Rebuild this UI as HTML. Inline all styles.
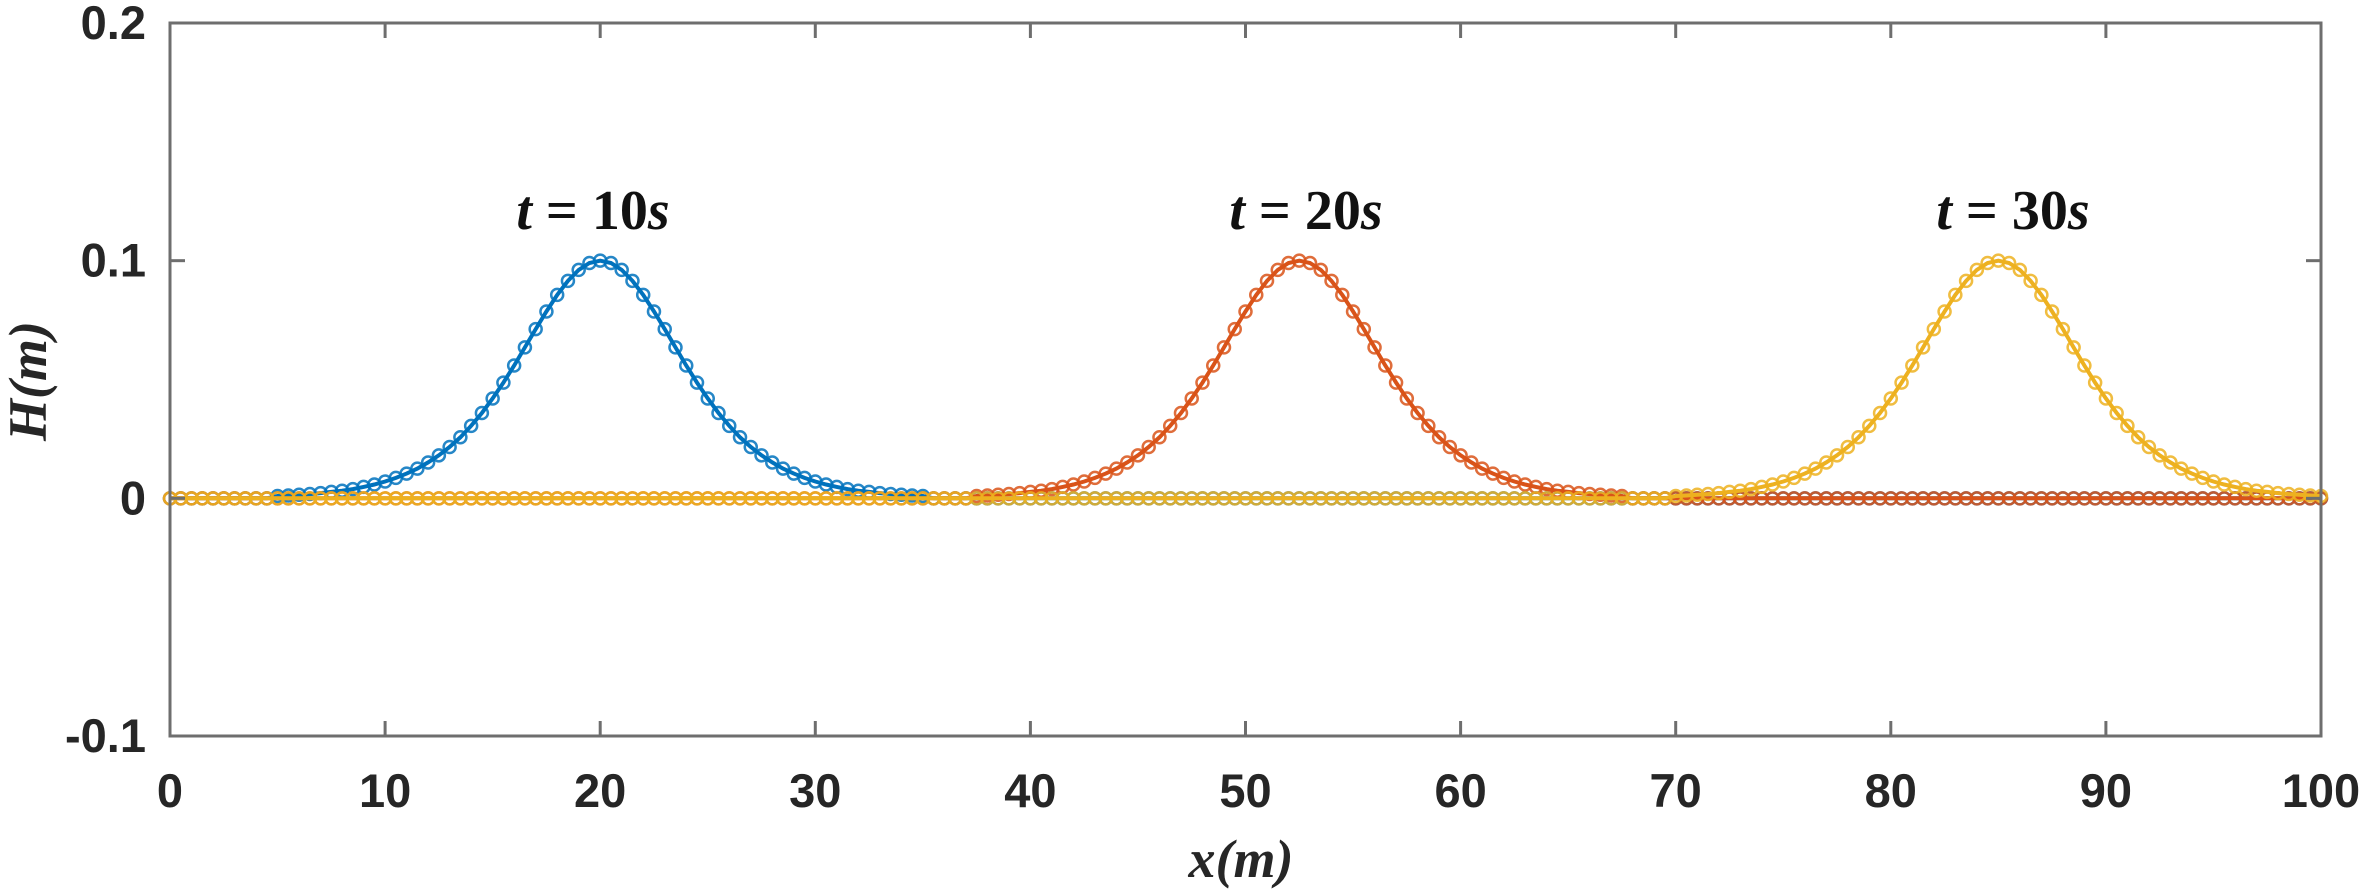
<!DOCTYPE html>
<html><head><meta charset="utf-8"><style>
html,body{margin:0;padding:0;background:#fff;}
svg{display:block;}
.tick{font-family:"Liberation Sans",sans-serif;font-weight:bold;font-size:47px;fill:#262626;}
.lab{font-family:"Liberation Serif",serif;font-weight:bold;font-style:italic;font-size:54px;fill:#262626;}
.ann{font-family:"Liberation Serif",serif;font-weight:bold;font-size:56px;fill:#111;}
</style></head><body>
<svg id="chart" width="2364" height="890" viewBox="0 0 2364 890" xmlns="http://www.w3.org/2000/svg">
<g id="series"></g>
<rect x="170" y="23" width="2151" height="713" fill="none" stroke="#6e6e6e" stroke-width="3"/>
<g id="axes"></g>
<text class="lab" x="1241" y="877" text-anchor="middle">x(m)</text>
<text class="lab" transform="translate(46,381) rotate(-90)" text-anchor="middle">H(m)</text>
<text class="ann" x="593" y="229" text-anchor="middle"><tspan font-style="italic">t</tspan> = 10<tspan font-style="italic">s</tspan></text>
<text class="ann" x="1306" y="229" text-anchor="middle"><tspan font-style="italic">t</tspan> = 20<tspan font-style="italic">s</tspan></text>
<text class="ann" x="2013" y="229" text-anchor="middle"><tspan font-style="italic">t</tspan> = 30<tspan font-style="italic">s</tspan></text>
</svg>
<script>
const xTicks=[0,10,20,30,40,50,60,70,80,90,100];
const yTicks=[-0.1,0,0.1,0.2];
const yTickLabels=["-0.1","0","0.1","0.2"];
const xStart=0, xStep=0.5;
const seriesNames=["t10","t20","t30"];
const seriesColors=["#0072BD","#D95319","#EDB120"];
const h10=[
0,0,0,0,0,0,0,0,0,0,
.0010,.0012,.0015,.0018,.0022,.0027,.0032,.0039,.0048,.0058,
.0071,.0086,.0104,.0125,.0151,.0181,.0216,.0257,.0305,.0359,
.0420,.0487,.0559,.0635,.0712,.0786,.0856,.0915,.0961,.0990,
.1000,
.0990,.0961,.0915,.0856,.0786,.0712,.0635,.0559,.0487,.0420,
.0359,.0305,.0257,.0216,.0181,.0151,.0125,.0104,.0086,.0071,
.0058,.0048,.0039,.0032,.0027,.0022,.0018,.0015,.0012,.0010,
0,0,0,0,0,0,0,0,0,0,
0,0,0,0,0,0,0,0,0,0,
0,0,0,0,0,0,0,0,0,0,
0,0,0,0,0,0,0,0,0,0,
0,0,0,0,0,0,0,0,0,0,
0,0,0,0,0,0,0,0,0,0,
0,0,0,0,0,0,0,0,0,0,
0,0,0,0,0,0,0,0,0,0,
0,0,0,0,0,0,0,0,0,0,
0,0,0,0,0,0,0,0,0,0,
0,0,0,0,0,0,0,0,0,0,
0,0,0,0,0,0,0,0,0,0,
0,0,0,0,0,0,0,0,0,0];
const h20=[
0,0,0,0,0,0,0,0,0,0,
0,0,0,0,0,0,0,0,0,0,
0,0,0,0,0,0,0,0,0,0,
0,0,0,0,0,0,0,0,0,0,
0,0,0,0,0,0,0,0,0,0,
0,0,0,0,0,0,0,0,0,0,
0,0,0,0,0,0,0,0,0,0,
0,0,0,0,0,
.0010,.0012,.0015,.0018,.0022,.0027,.0032,.0039,.0048,.0058,
.0071,.0086,.0104,.0125,.0151,.0181,.0216,.0257,.0305,.0359,
.0420,.0487,.0559,.0635,.0712,.0786,.0856,.0915,.0961,.0990,
.1000,
.0990,.0961,.0915,.0856,.0786,.0712,.0635,.0559,.0487,.0420,
.0359,.0305,.0257,.0216,.0181,.0151,.0125,.0104,.0086,.0071,
.0058,.0048,.0039,.0032,.0027,.0022,.0018,.0015,.0012,.0010,
0,0,0,0,0,0,0,0,0,0,
0,0,0,0,0,0,0,0,0,0,
0,0,0,0,0,0,0,0,0,0,
0,0,0,0,0,0,0,0,0,0,
0,0,0,0,0,0,0,0,0,0,
0,0,0,0,0,0,0,0,0,0,
0,0,0,0,0];
const h30=[
0,0,0,0,0,0,0,0,0,0,
0,0,0,0,0,0,0,0,0,0,
0,0,0,0,0,0,0,0,0,0,
0,0,0,0,0,0,0,0,0,0,
0,0,0,0,0,0,0,0,0,0,
0,0,0,0,0,0,0,0,0,0,
0,0,0,0,0,0,0,0,0,0,
0,0,0,0,0,0,0,0,0,0,
0,0,0,0,0,0,0,0,0,0,
0,0,0,0,0,0,0,0,0,0,
0,0,0,0,0,0,0,0,0,0,
0,0,0,0,0,0,0,0,0,0,
0,0,0,0,0,0,0,0,0,0,
0,0,0,0,0,0,0,0,0,0,
.0010,.0012,.0015,.0018,.0022,.0027,.0032,.0039,.0048,.0058,
.0071,.0086,.0104,.0125,.0151,.0181,.0216,.0257,.0305,.0359,
.0420,.0487,.0559,.0635,.0712,.0786,.0856,.0915,.0961,.0990,
.1000,
.0990,.0961,.0915,.0856,.0786,.0712,.0635,.0559,.0487,.0420,
.0359,.0305,.0257,.0216,.0181,.0151,.0125,.0104,.0086,.0071,
.0058,.0048,.0039,.0032,.0027,.0022,.0018,.0015,.0012,.0010];
const allSeries=[h10,h20,h30];

const NS="http://www.w3.org/2000/svg";
const X0=170,X1=2321,Y0=736,Y1=23;
function xScale(v){return X0+(v-0)/(100-0)*(X1-X0);}
function yScale(v){return Y0-(v-(-0.1))/(0.2-(-0.1))*(Y0-Y1);}
function mk(tag,attrs){const e=document.createElementNS(NS,tag);for(const k in attrs)e.setAttribute(k,attrs[k]);return e;}

const axes=document.getElementById('axes');
xTicks.forEach(t=>{
  const x=xScale(t);
  const l1=mk('line',{x1:x,x2:x,y1:Y0,y2:Y0-15,stroke:'#6e6e6e','stroke-width':3});
  
  
  axes.appendChild(l1);
  const l2=mk('line',{x1:x,x2:x,y1:Y1,y2:Y1+15,stroke:'#6e6e6e','stroke-width':3});
  
  
  axes.appendChild(l2);
  const tx=mk('text',{x:x,y:807,'text-anchor':'middle',class:'tick'});
  tx.textContent=String(t);
  
  
  axes.appendChild(tx);
});
yTicks.forEach((t,i)=>{
  const y=yScale(t);
  const l1=mk('line',{x1:X0,x2:X0+15,y1:y,y2:y,stroke:'#6e6e6e','stroke-width':3});
  
  
  axes.appendChild(l1);
  const l2=mk('line',{x1:X1,x2:X1-15,y1:y,y2:y,stroke:'#6e6e6e','stroke-width':3});
  
  
  axes.appendChild(l2);
  const tx=mk('text',{x:146,y:y+16,'text-anchor':'end',class:'tick'});
  tx.textContent=yTickLabels[i];
  
  
  axes.appendChild(tx);
});

const layer=document.getElementById('series');
allSeries.forEach((vals,si)=>{
  const g=mk('g',{});
  
  
  const pts=vals.map((v,i)=>xScale(xStart+i*xStep).toFixed(1)+','+yScale(v).toFixed(1)).join(' ');
  const pl=mk('polyline',{points:pts,fill:'none',stroke:seriesColors[si],'stroke-width':4});
  
  
  g.appendChild(pl);
  vals.forEach((v,i)=>{
    const c=mk('circle',{cx:xScale(xStart+i*xStep),cy:yScale(v),r:6,fill:'none',stroke:seriesColors[si],'stroke-width':2.5,'stroke-opacity':0.85});
    
    
    g.appendChild(c);
  });
  layer.appendChild(g);
});
</script>
</body></html>
